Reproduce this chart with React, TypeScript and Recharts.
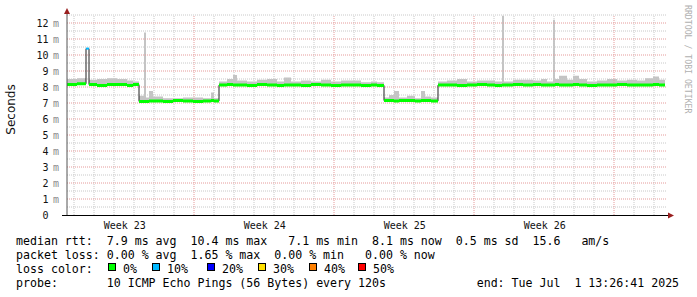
import React from 'react';
import { ComposedChart, Line, Area, XAxis, YAxis, ReferenceLine } from 'recharts';

// time in days since the start of the graph window
const sampleDays = [0, 0.5, 0.95, 1.1, 1.5, 2.0, 2.5, 3.0, 3.3, 3.6, 3.85, 3.95, 4.1, 4.3, 4.8, 5.3, 5.8, 6.3, 6.8, 7.2, 7.35, 7.6, 8.0, 8.3, 8.5, 9.0, 9.5, 10.0, 10.5, 10.85, 11.2, 11.7, 12.2, 12.7, 13.2, 13.7, 14.2, 14.7, 15.2, 15.5, 15.85, 16.1, 16.35, 16.6, 17.0, 17.4, 17.7, 17.9, 18.2, 18.55, 19.0, 19.5, 20.0, 20.5, 21.0, 21.4, 21.75, 21.85, 22.3, 22.8, 23.3, 23.7, 24.0, 24.3, 24.4, 24.6, 25.0, 25.3, 25.6, 26.0, 26.5, 27.0, 27.5, 28.0, 28.5, 28.9, 29.3, 29.6, 29.9];
// median rtt in ms
const medianMs = [8.15, 8.2, 10.4, 8.15, 8.1, 8.15, 8.15, 8.1, 8.15, 7.1, 7.1, 7.1, 7.12, 7.12, 7.1, 7.15, 7.12, 7.1, 7.12, 7.15, 7.12, 8.12, 8.15, 8.12, 8.12, 8.1, 8.15, 8.12, 8.1, 8.12, 8.12, 8.1, 8.15, 8.12, 8.1, 8.12, 8.12, 8.1, 8.12, 8.1, 7.15, 7.15, 7.12, 7.15, 7.15, 7.12, 7.15, 7.15, 7.12, 8.12, 8.12, 8.1, 8.12, 8.15, 8.12, 8.1, 8.12, 8.12, 8.15, 8.12, 8.15, 8.12, 8.12, 8.12, 8.15, 8.12, 8.12, 8.15, 8.12, 8.1, 8.12, 8.12, 8.15, 8.12, 8.12, 8.12, 8.15, 8.12, 8.12];
// top of the smoke (slowest ping) in ms
const smokeTopMs = [8.5, 8.55, 10.4, 8.45, 8.5, 8.55, 8.5, 8.4, 8.35, 7.45, 11.4, 7.35, 7.75, 7.4, 7.3, 7.3, 7.35, 7.35, 7.3, 7.65, 7.3, 8.35, 8.5, 8.75, 8.4, 8.35, 8.45, 8.5, 8.35, 8.6, 8.35, 8.4, 8.35, 8.45, 8.35, 8.4, 8.4, 8.3, 8.35, 8.3, 7.35, 7.5, 7.75, 7.35, 7.45, 7.3, 7.75, 7.4, 7.35, 8.35, 8.4, 8.5, 8.35, 8.4, 8.4, 8.35, 12.45, 8.35, 8.45, 8.45, 8.4, 8.5, 8.35, 12.2, 8.5, 8.7, 8.45, 8.7, 8.5, 8.35, 8.4, 8.5, 8.4, 8.45, 8.4, 8.55, 8.65, 8.45, 8.45];
// loss colour bucket index per sample (0 => 0%, 1 => 10%, ...)
const lossBucket = [0, 0, 1, 0, 0, 0, 0, 0, 0, 0, 0, 0, 0, 0, 0, 0, 0, 0, 0, 0, 0, 0, 0, 0, 0, 0, 0, 0, 0, 0, 0, 0, 0, 0, 0, 0, 0, 0, 0, 0, 0, 0, 0, 0, 0, 0, 0, 0, 0, 0, 0, 0, 0, 0, 0, 0, 0, 0, 0, 0, 0, 0, 0, 0, 0, 0, 0, 0, 0, 0, 0, 0, 0, 0, 0, 0, 0, 0, 0];

const lossColors = ['#00ff00', '#00b8ff', '#0000ff', '#ffe000', '#ff8000', '#ff0000'];
const lossLabels = ['0%', '10%', '20%', '30%', '40%', '50%'];

const yTicks = [0, 1, 2, 3, 4, 5, 6, 7, 8, 9, 10, 11, 12];
const yMinorGrid = [0.5, 1.5, 2.5, 3.5, 4.5, 5.5, 6.5, 7.5, 8.5, 9.5, 10.5, 11.5, 12.5];
const yMajorGrid = [1, 2, 3, 4, 5, 6, 7, 8, 9, 10, 11, 12];
const weekTicks = [2.85, 9.85, 16.85, 23.85];
const weekLabels = ['Week 23', 'Week 24', 'Week 25', 'Week 26'];
const dayGrid = [0.35, 1.35, 2.35, 3.35, 4.35, 5.35, 7.35, 8.35, 9.35, 10.35, 11.35, 12.35, 14.35, 15.35, 16.35, 17.35, 18.35, 19.35, 21.35, 22.35, 23.35, 24.35, 25.35, 26.35, 28.35, 29.35];
const weekGrid = [6.35, 13.35, 20.35, 27.35];

const statsLine1 = 'median rtt:  7.9 ms avg  10.4 ms max   7.1 ms min  8.1 ms now  0.5 ms sd  15.6   am/s';
const statsLine2 = 'packet loss: 0.00 % avg  1.65 % max  0.00 % min   0.00 % now';
const lossTitle = 'loss color:';
const probeLine = 'probe:       10 ICMP Echo Pings (56 Bytes) every 120s             end: Tue Jul  1 13:26:41 2025';
const yAxisTitle = 'Seconds';
const watermark = 'RRDTOOL / TOBI OETIKER';

type Row = { [k: string]: any };
const rows: Row[] = [];
const colourFields = (idx: number, blank: boolean) => {
  const o: Row = {};
  lossColors.forEach((_, k) => {
    o['loss' + k] = !blank && lossBucket[idx] === k ? medianMs[idx] : null;
  });
  return o;
};
for (let i = 0; i < sampleDays.length; i++) {
  const t = sampleDays[i];
  if (i > 0) {
    const p = i - 1;
    rows.push({ t, median: medianMs[p], smoke: [medianMs[p], smokeTopMs[p]], ...colourFields(p, false) });
    rows.push({ t, median: medianMs[i], smoke: [medianMs[i], smokeTopMs[i]], ...colourFields(i, true) });
  }
  rows.push({ t, median: medianMs[i], smoke: [medianMs[i], smokeTopMs[i]], ...colourFields(i, false) });
}

const MONO = '"DejaVu Sans Mono", monospace';
const PRE: React.CSSProperties = { whiteSpace: 'pre' };

const YTick = (props: any) => {
  const { x, y, payload } = props;
  const v = payload.value;
  return (
    <g>
      <text x={x - 18.5} y={y + 3.7} textAnchor="end" fontFamily={MONO} fontSize={10} fill="#111" style={{ fill: '#111' }}>{String(v)}</text>
      {v !== 0 && (
        <text x={x - 14} y={y + 3.7} textAnchor="start" fontFamily={MONO} fontSize={10} fill="#8a8a8a" style={{ fill: '#8a8a8a' }}>m</text>
      )}
    </g>
  );
};

const WeekTick = (props: any) => {
  const { x, y, payload } = props;
  const idx = weekTicks.indexOf(payload.value);
  return (
    <text x={x + 0.8} y={y + 13.5} textAnchor="middle" fontFamily={MONO} fontSize={10} fill="#111" style={{ fill: '#111' }}>
      {weekLabels[idx]}
    </text>
  );
};

const legendBoxX = [108, 152, 207, 258, 309, 358];

export default function App() {
  return (
    <div style={{ position: 'absolute', left: 0, top: 0, width: 697, height: 297, background: '#fff' }}>
      <ComposedChart width={697} height={297} data={rows} margin={{ top: 15, right: 30, bottom: 0, left: 0 }}>
        <XAxis dataKey="t" type="number" domain={[0, 30]} ticks={weekTicks} height={82} axisLine={false} tickLine={false} tickSize={0} tickMargin={0} tick={WeekTick} allowDataOverflow interval={0} />
        <YAxis type="number" domain={[0, 12.5]} ticks={yTicks} width={67} axisLine={false} tickLine={false} tickSize={0} tickMargin={0} tick={YTick} allowDataOverflow interval={0} />
        {yMinorGrid.map((v) => (
          <ReferenceLine key={'ym' + v} y={v} stroke="#c8c8c8" strokeDasharray="1 1" ifOverflow="visible" />
        ))}
        {dayGrid.map((v) => (
          <ReferenceLine key={'xm' + v} x={v} stroke="#c8c8c8" strokeDasharray="1 1" ifOverflow="visible" />
        ))}
        {yMajorGrid.map((v) => (
          <ReferenceLine key={'yM' + v} y={v} stroke="#e59a9a" strokeDasharray="1 1" ifOverflow="visible" />
        ))}
        {weekGrid.map((v) => (
          <ReferenceLine key={'xM' + v} x={v} stroke="#e59a9a" strokeDasharray="1 1" ifOverflow="visible" />
        ))}
        <Area dataKey="smoke" type="stepAfter" stroke="none" fill="#c4c4c4" fillOpacity={1} isAnimationActive={false} dot={false} activeDot={false} />
        <Line dataKey="median" type="stepAfter" stroke="#202020" strokeWidth={1} dot={false} activeDot={false} isAnimationActive={false} />
        {lossColors.map((c, k) => (
          <Line key={'loss' + k} dataKey={'loss' + k} type="stepAfter" stroke={c} strokeWidth={k === 0 ? 3 : 2} dot={false} activeDot={false} connectNulls={false} isAnimationActive={false} />
        ))}
      </ComposedChart>
      <svg width={697} height={297} style={{ position: 'absolute', left: 0, top: 0, pointerEvents: 'none' }}>
        <line x1={67} y1={11} x2={67} y2={216} stroke="#555" strokeWidth={1} />
        <line x1={62} y1={215.5} x2={670} y2={215.5} stroke="#000" strokeWidth={1} />
        <polygon points="67,8 64,14 70,14" fill="#991f1f" />
        <polygon points="674,215.5 668,212.5 668,218.5" fill="#991f1f" />
        <text transform="translate(15,109.5) rotate(-90)" textAnchor="middle" fontFamily='"DejaVu Sans", sans-serif' fontSize={12} fill="#111">{yAxisTitle}</text>
        <text transform="translate(685,5) rotate(90)" fontFamily={MONO} fontSize={8.2} fill="#b0b0b0" xmlSpace="preserve" style={PRE}>{watermark}</text>
        <g fontFamily={MONO} fontSize={11.6} fill="#000">
          <text x={16} y={245} xmlSpace="preserve" style={PRE}>{statsLine1}</text>
          <text x={16} y={259} xmlSpace="preserve" style={PRE}>{statsLine2}</text>
          <text x={16} y={273} xmlSpace="preserve" style={PRE}>{lossTitle}</text>
          {lossColors.map((c, k) => (
            <g key={'lg' + k}>
              <rect x={legendBoxX[k] + 0.5} y={263.5} width={7} height={7} fill={c} stroke="#000" strokeWidth={1} />
              <text x={legendBoxX[k] + 15} y={273}>{lossLabels[k]}</text>
            </g>
          ))}
          <text x={16} y={287} xmlSpace="preserve" style={PRE}>{probeLine}</text>
        </g>
      </svg>
    </div>
  );
}
